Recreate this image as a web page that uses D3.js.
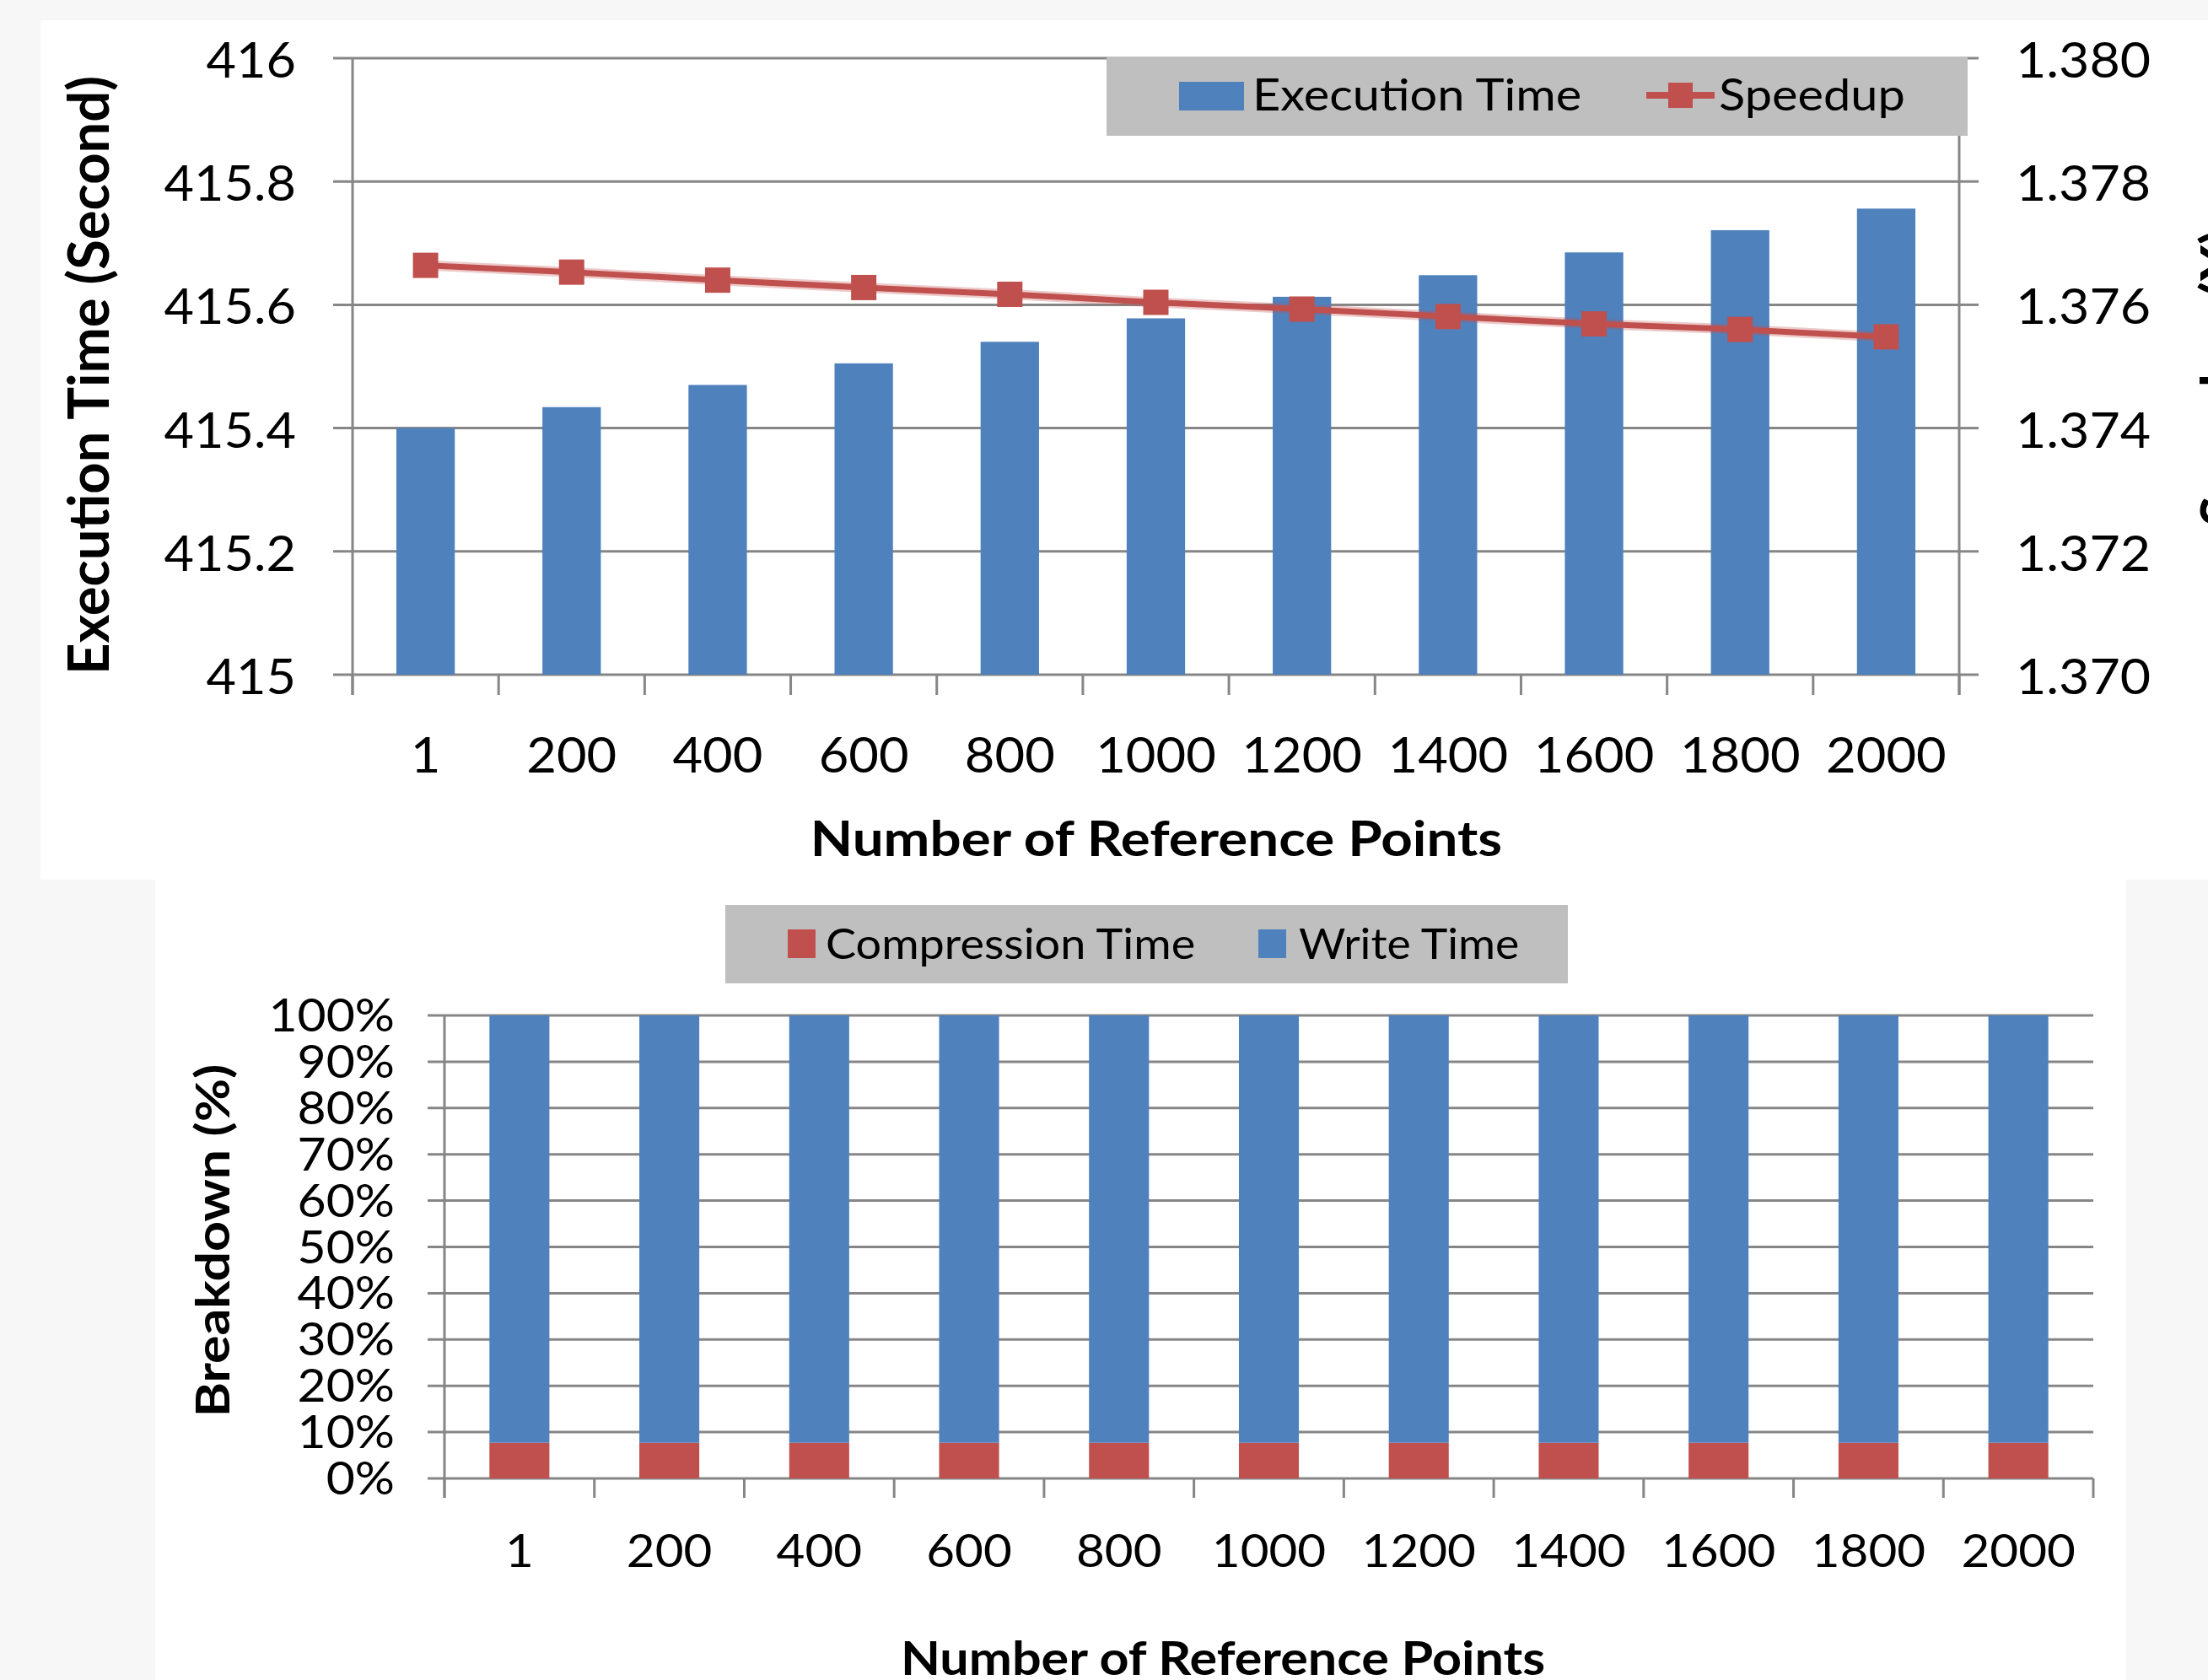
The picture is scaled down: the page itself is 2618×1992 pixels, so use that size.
<!DOCTYPE html>
<html>
<head>
<meta charset="utf-8">
<script src="https://cdn.jsdelivr.net/npm/d3@7"></script>
<style>
  html, body { margin: 0; padding: 0; background: #f7f7f7; }
  svg { display: block; }
  text { font-family: Lato, "Open Sans", sans-serif; fill: #000; }
</style>
</head>
<body>
<svg id="chart" width="2618" height="1992"></svg>
<script>
// ---- data ----
const refPoints = ["1", "200", "400", "600", "800", "1000", "1200", "1400", "1600", "1800", "2000"];
const executionTime = [415.400, 415.434, 415.470, 415.505, 415.540, 415.578, 415.613, 415.648, 415.685, 415.721, 415.756];
const speedup = [1.37664, 1.37653, 1.37640, 1.37628, 1.37617, 1.37604, 1.37593, 1.37581, 1.37569, 1.37560, 1.37548];
const compressionShare = [0.077, 0.077, 0.077, 0.077, 0.077, 0.077, 0.077, 0.077, 0.077, 0.077, 0.077];
const writeShare = [0.923, 0.923, 0.923, 0.923, 0.923, 0.923, 0.923, 0.923, 0.923, 0.923, 0.923];
const execTicks = [415, 415.2, 415.4, 415.6, 415.8, 416];
const speedupTicks = [1.370, 1.372, 1.374, 1.376, 1.378, 1.380];
const shareTicks = [0, 0.1, 0.2, 0.3, 0.4, 0.5, 0.6, 0.7, 0.8, 0.9, 1.0];

const BLUE = "#4f81bd", RED = "#c0504d", GRID = "#868686", LEGEND_BG = "#bfbfbf";

const svg = d3.select("#chart");

// widen text horizontally to approximate the wider Office face
function widen(sel, k) {
  sel.each(function () {
    const w = this.getComputedTextLength();
    d3.select(this).attr("textLength", w * k).attr("lengthAdjust", "spacingAndGlyphs");
  });
  return sel;
}

// white chart panels on the light grey page
svg.append("rect").attr("x", 48).attr("y", 24).attr("width", 2570).attr("height", 1019).attr("fill", "#fff");
svg.append("rect").attr("x", 184).attr("y", 1043).attr("width", 2337).attr("height", 949).attr("fill", "#fff");

// =============== upper chart: execution time + speedup ===============
const T = { left: 418, right: 2323, top: 69, bottom: 800 };
const xTop = d3.scaleBand().domain(refPoints).range([T.left, T.right]).paddingInner(0.6).paddingOuter(0.3);
const xTopGrid = d3.scaleBand().domain(refPoints).range([T.left, T.right]);
const yExec = d3.scaleLinear().domain([415, 416]).range([T.bottom, T.top]);
const ySpeed = d3.scaleLinear().domain([1.370, 1.380]).range([T.bottom, T.top]);

const gTop = svg.append("g");

// horizontal gridlines with outer tick stubs on the left
gTop.append("g").selectAll("line").data(execTicks).join("line")
  .attr("x1", T.left - 23).attr("x2", T.right)
  .attr("y1", d => yExec(d)).attr("y2", d => yExec(d))
  .attr("stroke", GRID).attr("stroke-width", 3);
// right axis tick stubs
gTop.append("g").selectAll("line").data(speedupTicks).join("line")
  .attr("x1", T.right).attr("x2", T.right + 23)
  .attr("y1", d => ySpeed(d)).attr("y2", d => ySpeed(d))
  .attr("stroke", GRID).attr("stroke-width", 3);
// vertical axis lines
gTop.append("line").attr("x1", T.left).attr("x2", T.left).attr("y1", T.top).attr("y2", T.bottom + 24)
  .attr("stroke", GRID).attr("stroke-width", 3);
gTop.append("line").attr("x1", T.right).attr("x2", T.right).attr("y1", T.top).attr("y2", T.bottom + 24)
  .attr("stroke", GRID).attr("stroke-width", 3);
// category boundary ticks
const topBounds = refPoints.map(c => xTopGrid(c)).concat([T.right]);
gTop.append("g").selectAll("line").data(topBounds).join("line")
  .attr("x1", d => d).attr("x2", d => d).attr("y1", T.bottom).attr("y2", T.bottom + 24)
  .attr("stroke", GRID).attr("stroke-width", 3);

// execution time bars
gTop.append("g").selectAll("rect").data(refPoints).join("rect")
  .attr("x", c => xTop(c)).attr("width", xTop.bandwidth())
  .attr("y", (c, i) => yExec(executionTime[i]))
  .attr("height", (c, i) => yExec(415) - yExec(executionTime[i]))
  .attr("fill", BLUE);

// speedup line with soft halo
const cx = c => xTop(c) + xTop.bandwidth() / 2;
const line = d3.line().x((d, i) => cx(refPoints[i])).y(d => ySpeed(d));
gTop.append("path").datum(speedup).attr("d", line).attr("fill", "none")
  .attr("stroke", RED).attr("stroke-opacity", 0.3).attr("stroke-width", 12);
gTop.append("path").datum(speedup).attr("d", line).attr("fill", "none")
  .attr("stroke", RED).attr("stroke-width", 7);
gTop.append("g").selectAll("rect").data(speedup).join("rect")
  .attr("x", (d, i) => cx(refPoints[i]) - 15).attr("y", d => ySpeed(d) - 15)
  .attr("width", 30).attr("height", 30).attr("fill", RED);

// tick labels
widen(gTop.append("g").selectAll("text").data(execTicks).join("text")
  .attr("x", 351).attr("y", d => yExec(d) + 23)
  .attr("text-anchor", "end").attr("font-size", 58)
  .text(d => String(+d.toFixed(1))), 1.055);
widen(gTop.append("g").selectAll("text").data(speedupTicks).join("text")
  .attr("x", 2390).attr("y", d => ySpeed(d) + 23)
  .attr("text-anchor", "start").attr("font-size", 58)
  .text(d => d3.format(".3f")(d)), 1.08);
widen(gTop.append("g").selectAll("text").data(refPoints).join("text")
  .attr("x", c => cx(c)).attr("y", 916)
  .attr("text-anchor", "middle").attr("font-size", 58)
  .text(c => c), 1.06);

// axis titles
widen(gTop.append("text").attr("x", 1371).attr("y", 1015).attr("text-anchor", "middle")
  .attr("font-size", 58).attr("font-weight", "bold").text("Number of Reference Points"), 1.13);
widen(gTop.append("text").attr("transform", "translate(129,445) rotate(-90)").attr("text-anchor", "middle")
  .attr("font-size", 66).attr("font-weight", "bold").text("Execution Time (Second)"), 0.985);
gTop.append("text").attr("transform", "translate(2658,448) rotate(-90)").attr("text-anchor", "middle")
  .attr("font-size", 66).attr("font-weight", "bold").text("Speedup (X)");

// legend
const lgTop = gTop.append("g");
lgTop.append("rect").attr("x", 1312).attr("y", 68).attr("width", 1021).attr("height", 93).attr("fill", LEGEND_BG);
lgTop.append("rect").attr("x", 1398).attr("y", 97).attr("width", 77).attr("height", 34).attr("fill", BLUE);
widen(lgTop.append("text").attr("x", 1485).attr("y", 131).attr("font-size", 52).text("Execution Time"), 1.11);
lgTop.append("line").attr("x1", 1952).attr("x2", 2033).attr("y1", 113).attr("y2", 113)
  .attr("stroke", RED).attr("stroke-width", 8);
lgTop.append("rect").attr("x", 1978).attr("y", 98).attr("width", 29).attr("height", 30).attr("fill", RED);
widen(lgTop.append("text").attr("x", 2038).attr("y", 131).attr("font-size", 52).text("Speedup"), 1.11);

// =============== lower chart: time breakdown ===============
const B = { left: 527, right: 2482, top: 1204, bottom: 1753 };
const xBot = d3.scaleBand().domain(refPoints).range([B.left, B.right]).paddingInner(0.6).paddingOuter(0.3);
const xBotGrid = d3.scaleBand().domain(refPoints).range([B.left, B.right]);
const yShare = d3.scaleLinear().domain([0, 1]).range([B.bottom, B.top]);

const gBot = svg.append("g");
gBot.append("g").selectAll("line").data(shareTicks).join("line")
  .attr("x1", B.left - 20).attr("x2", B.right)
  .attr("y1", d => yShare(d)).attr("y2", d => yShare(d))
  .attr("stroke", GRID).attr("stroke-width", 3);
gBot.append("line").attr("x1", B.left).attr("x2", B.left).attr("y1", B.top).attr("y2", B.bottom + 23)
  .attr("stroke", GRID).attr("stroke-width", 3);
const botBounds = refPoints.map(c => xBotGrid(c)).concat([B.right]);
gBot.append("g").selectAll("line").data(botBounds).join("line")
  .attr("x1", d => d).attr("x2", d => d).attr("y1", B.bottom).attr("y2", B.bottom + 23)
  .attr("stroke", GRID).attr("stroke-width", 3);

const shareTable = refPoints.map((c, i) => ({ cat: c, compression: compressionShare[i], write: writeShare[i] }));
const stacked = d3.stack().keys(["compression", "write"])(shareTable);
const stackColor = { compression: RED, write: BLUE };
gBot.append("g").selectAll("g").data(stacked).join("g")
  .attr("fill", s => stackColor[s.key])
  .selectAll("rect").data(s => s).join("rect")
  .attr("x", d => xBot(d.data.cat)).attr("width", xBot.bandwidth())
  .attr("y", d => yShare(d[1])).attr("height", d => yShare(d[0]) - yShare(d[1]));

widen(gBot.append("g").selectAll("text").data(shareTicks).join("text")
  .attr("x", 468).attr("y", d => yShare(d) + 19)
  .attr("text-anchor", "end").attr("font-size", 54)
  .text(d => d3.format(".0%")(d)), 1.09);
widen(gBot.append("g").selectAll("text").data(refPoints).join("text")
  .attr("x", c => xBot(c) + xBot.bandwidth() / 2).attr("y", 1858)
  .attr("text-anchor", "middle").attr("font-size", 54)
  .text(c => c), 1.08);
widen(gBot.append("text").attr("x", 1450).attr("y", 1986).attr("text-anchor", "middle")
  .attr("font-size", 55).attr("font-weight", "bold").text("Number of Reference Points"), 1.11);
widen(gBot.append("text").attr("transform", "translate(272,1471) rotate(-90)").attr("text-anchor", "middle")
  .attr("font-size", 56).attr("font-weight", "bold").text("Breakdown (%)"), 1.12);

const lgBot = gBot.append("g");
lgBot.append("rect").attr("x", 860).attr("y", 1073).attr("width", 999).attr("height", 93).attr("fill", LEGEND_BG);
lgBot.append("rect").attr("x", 934).attr("y", 1102).attr("width", 33).attr("height", 34).attr("fill", RED);
widen(lgBot.append("text").attr("x", 979).attr("y", 1137).attr("font-size", 50).text("Compression Time"), 1.08);
lgBot.append("rect").attr("x", 1492).attr("y", 1102).attr("width", 33).attr("height", 34).attr("fill", BLUE);
widen(lgBot.append("text").attr("x", 1540).attr("y", 1137).attr("font-size", 50).text("Write Time"), 1.07);
</script>
</body>
</html>
